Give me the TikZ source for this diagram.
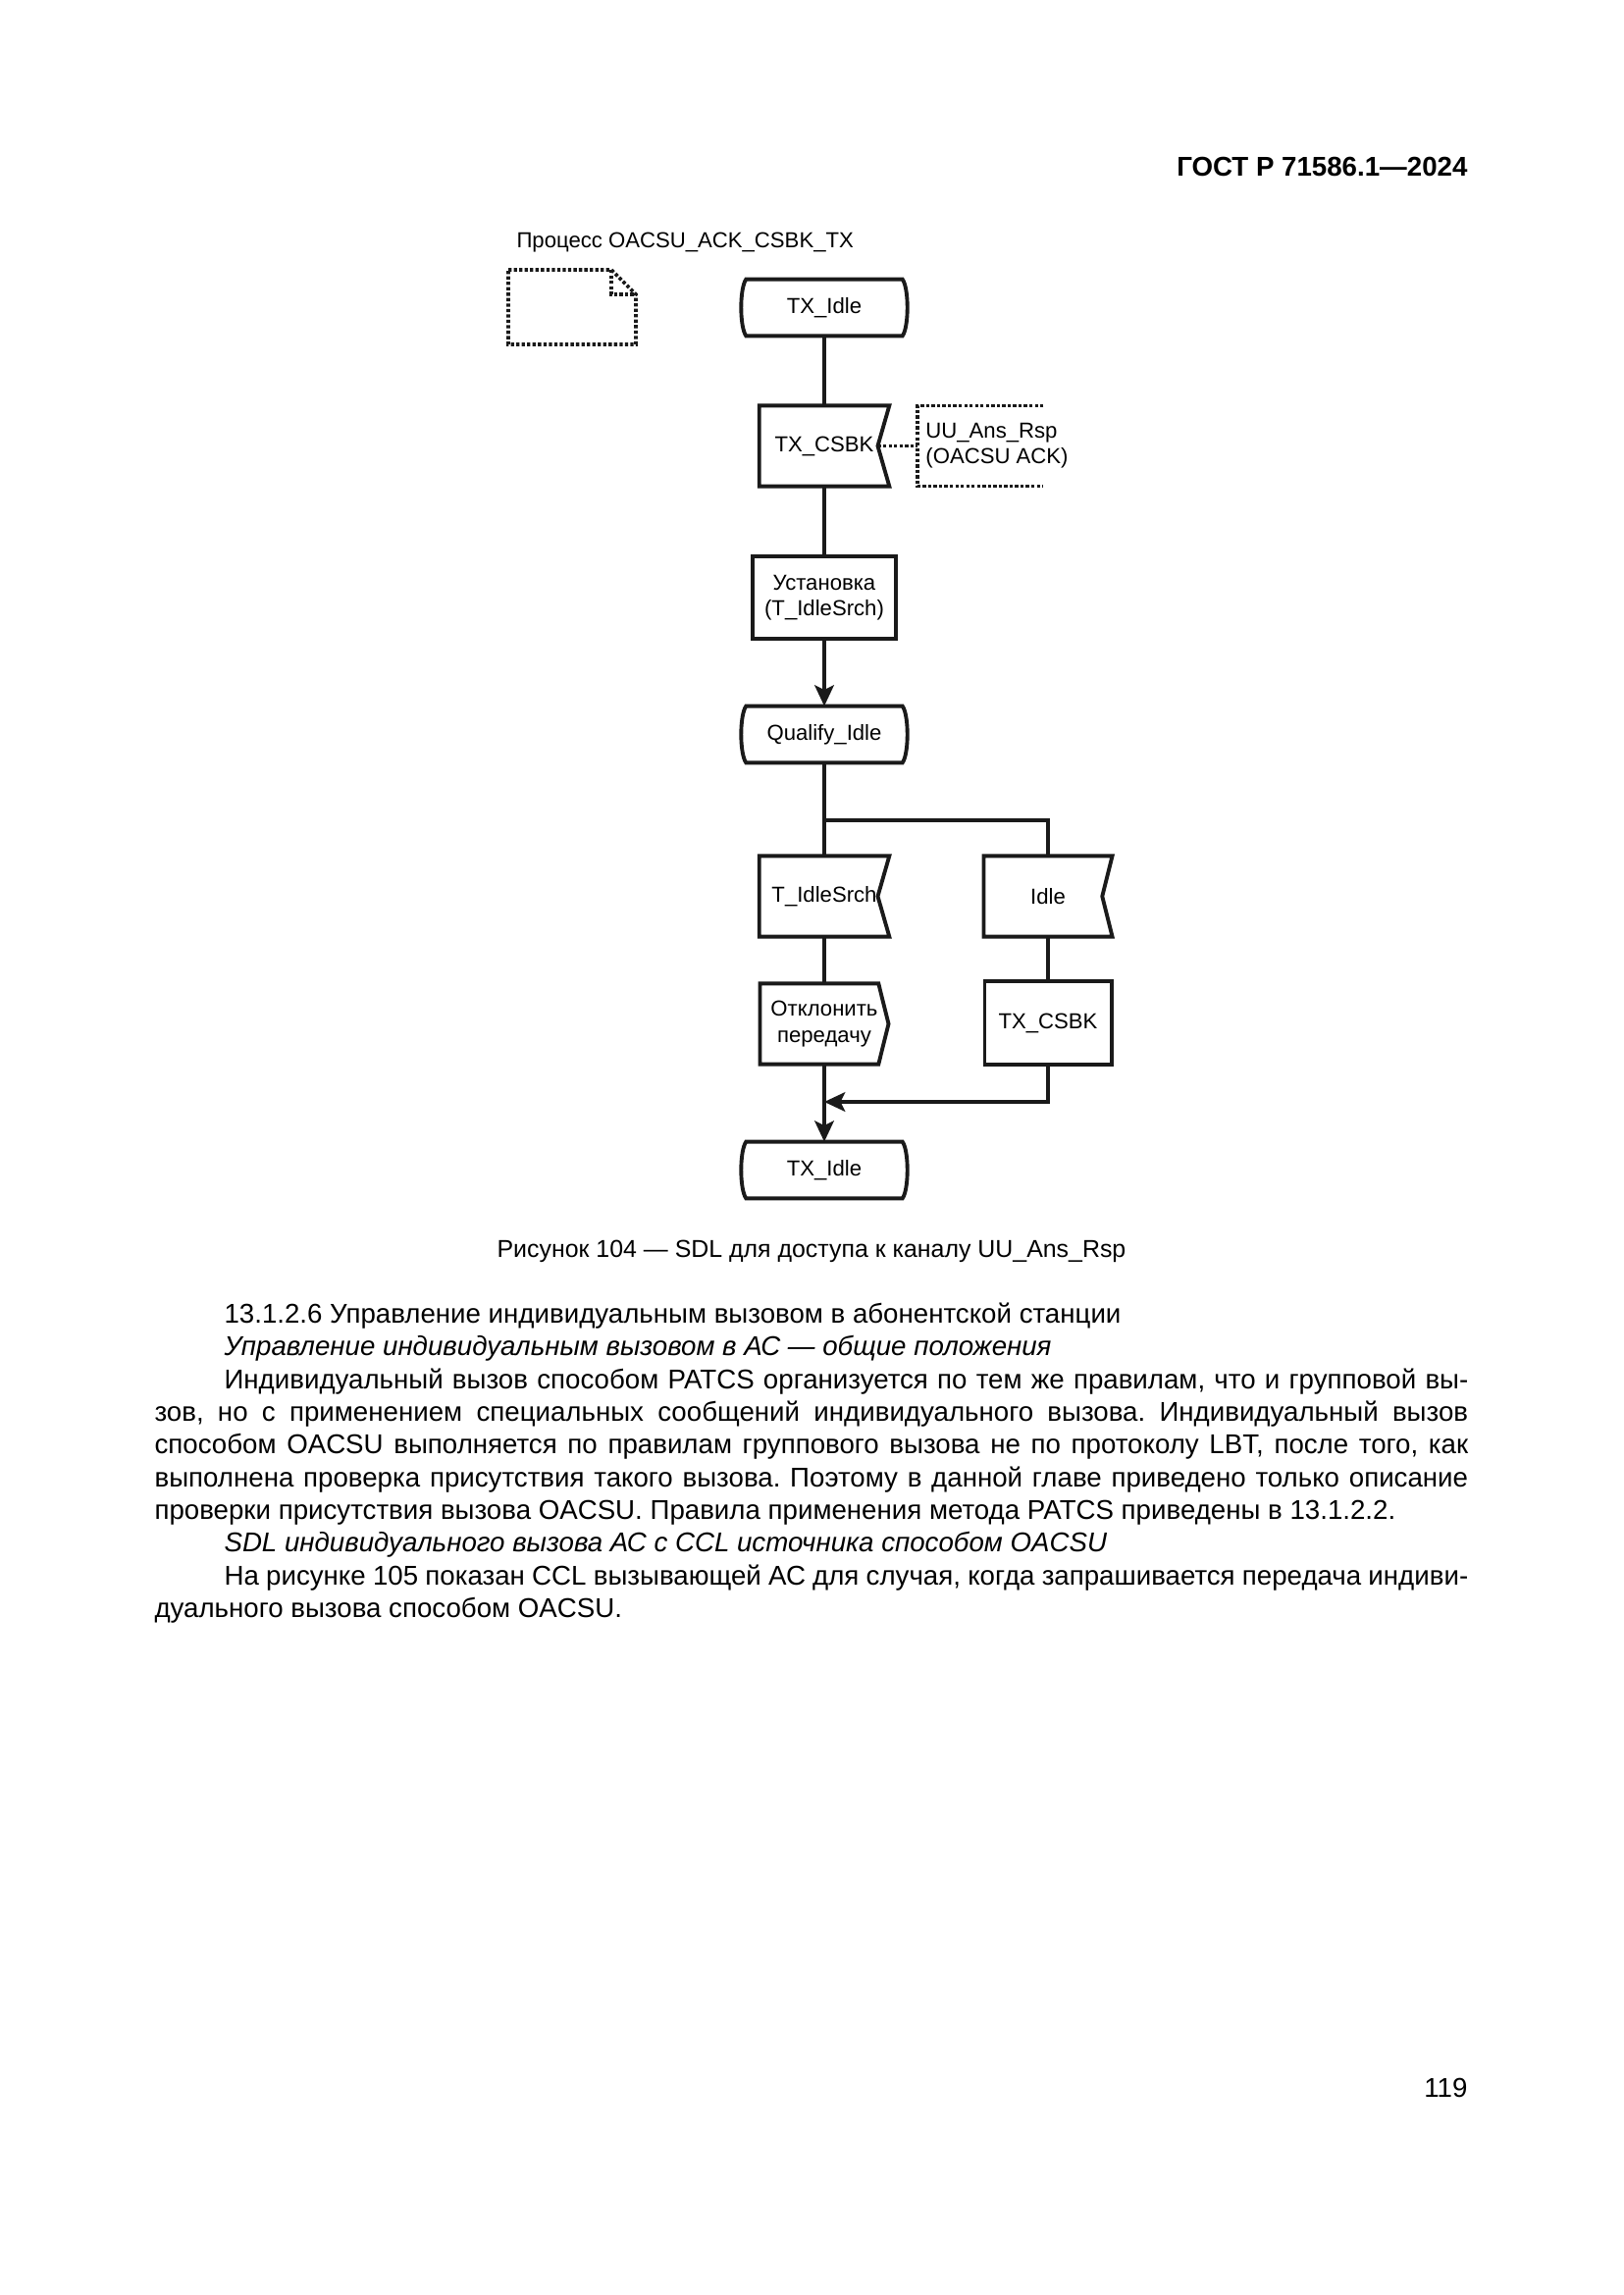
\documentclass[tikz,border=0pt]{standalone}
\usepackage{fontspec}
\setmainfont{Liberation Sans}
\usepackage{tikz}
\usetikzlibrary{arrows.meta, positioning}
\definecolor{inkline}{HTML}{1A1A1A}
\frenchspacing

\tikzset{
  sdltext/.style={font=\fontsize{8}{9.5}\selectfont, align=center, inner sep=0pt},
  symline/.style={draw=inkline, line width=1.4pt, line join=miter},
  flow/.style={draw=inkline, line width=1.2pt},
  flowarrow/.style={flow, -{Stealth[length=2.7mm, width=2.5mm, inset=0.6mm]}},
  dotline/.style={draw=inkline, line width=1.3pt, dash pattern=on 1.2pt off 0.8pt},
  statebox/.style={sdltext, minimum width=21.4mm, minimum height=7.2mm},
  inbox/.style={sdltext, minimum width=16.7mm, minimum height=10.3mm},
  outbox/.style={sdltext, minimum width=16.5mm, minimum height=10.3mm},
  taskbox/.style={sdltext, symline, rectangle},
  bodytext/.style={font=\fontsize{10}{12}\selectfont, inner sep=0pt, anchor=base west},
}

% SDL outlines, drawn round a node that has no border of its own
\newcommand{\statesym}[1]{%
  \draw[symline] ([xshift=0.65mm]#1.north west) -- ([xshift=-0.65mm]#1.north east)
    .. controls ([xshift=0.2mm,yshift=-1.2mm]#1.north east) and ([xshift=0.2mm,yshift=1.2mm]#1.south east) .. ([xshift=-0.65mm]#1.south east)
    -- ([xshift=0.65mm]#1.south west)
    .. controls ([xshift=-0.2mm,yshift=1.2mm]#1.south west) and ([xshift=-0.2mm,yshift=-1.2mm]#1.north west) .. ([xshift=0.65mm]#1.north west)
    -- cycle;}
\newcommand{\inputsym}[2][1.5mm]{%
  \draw[symline] (#2.north west) -- (#2.north east) -- ([xshift=-#1]#2.east)
    -- (#2.south east) -- (#2.south west) -- cycle;}
\newcommand{\outputsym}[1]{%
  \draw[symline] (#1.north west) -- ([xshift=-1.3mm]#1.north east) -- (#1.east)
    -- ([xshift=-1.3mm]#1.south east) -- (#1.south west) -- cycle;}

\begin{document}
\begin{tikzpicture}
\begin{scope}[x=0.127mm, y=-0.127mm]
  \useasboundingbox (0,0) rectangle (1654,2339);
  \def\fullw{170mm} % text block width
  \def\indw{161mm}  % width after paragraph indent

  % Running head
  \node[font=\bfseries\fontsize{10}{12}\selectfont, inner sep=0pt, anchor=base east] (runhead) at (1496,180) {ГОСТ Р 71586.1—2024};

  % Process name and text symbol
  \node[sdltext, anchor=base west] (procname) at (526,253) {Процесс OACSU\_ACK\_CSBK\_TX};
  \draw[dotline] (518,275) -- (623,275) -- (648,300) -- (648,351) -- (518,351) -- cycle;
  \draw[dotline] (623,275) -- (623,300) -- (648,300);

  % Main column
  \node[statebox] (idletop) at (840,313.5) {TX\_Idle};
  \node[inbox] (csbkin) at (840,454.5) {TX\_CSBK};
  \node[sdltext, anchor=west, align=left, inner xsep=1mm, minimum height=10.3mm] (csbknote) at (935,454.5) {UU\_Ans\_Rsp\\(OACSU ACK)};
  \node[taskbox, minimum width=18.5mm, minimum height=10.7mm] (settimer) at (840,609) {Установка\\(T\_IdleSrch)};
  \node[statebox] (qualify) at (840,748.5) {Qualify\_Idle};

  % Two branches
  \node[inbox] (srchin) at (840,913.5) {T\_IdleSrch};
  \node[inbox, minimum width=16.5mm] (idlein) at (1068,913.5) {Idle};
  \node[outbox] (reject) at (840,1043.5) {Отклонить\\передачу};
  \node[taskbox, minimum width=16.4mm, minimum height=10.8mm] (csbktask) at (1068,1042.5) {TX\_CSBK};
  \node[statebox] (idlebot) at (840,1192.5) {TX\_Idle};

  \statesym{idletop}
  \inputsym{csbkin}
  \statesym{qualify}
  \inputsym{srchin}
  \inputsym[1.3mm]{idlein}
  \outputsym{reject}
  \statesym{idlebot}

  % Comment bracket
  \draw[dotline] ([xshift=16.3mm]csbknote.north west) -- (csbknote.north west) -- (csbknote.south west) -- ([xshift=16.3mm]csbknote.south west);
  \draw[dotline] ([xshift=-1.5mm]csbkin.east) -- (csbknote.west);

  % Flow lines
  \coordinate (split) at (840,836);
  \coordinate (merge) at (840,1123);
  \draw[flow] (idletop) -- (csbkin);
  \draw[flow] (csbkin) -- (settimer);
  \draw[flowarrow] (settimer) -- (qualify);
  \draw[flow] (qualify) -- (srchin);
  \draw[flow] (split) -| (idlein);
  \draw[flow] (srchin) -- (reject);
  \draw[flow] (idlein) -- (csbktask);
  \draw[flowarrow] (csbktask) |- (merge);
  \draw[flowarrow] (reject) -- (idlebot);

  % Caption
  \node[font=\fontsize{9}{11}\selectfont, inner sep=0pt, anchor=base] (figcap) at (827,1281) {Рисунок 104 — SDL для доступа к каналу UU\_Ans\_Rsp};

  % Body text
  \node[bodytext] (l1) at (228,1348) {13.1.2.6 Управление индивидуальным вызовом в абонентской станции};
  \node[bodytext] (l2) at (228,1381) {\itshape Управление индивидуальным вызовом в АС — общие положения};
  \node[bodytext] (l3) at (228,1415) {\makebox[\indw][s]{Индивидуальный вызов способом PATCS организуется по тем же правилам, что и групповой вы-}};
  \node[bodytext] (l4) at (157,1448) {\makebox[\fullw][s]{зов, но с применением специальных сообщений индивидуального вызова. Индивидуальный вызов}};
  \node[bodytext] (l5) at (157,1481) {\makebox[\fullw][s]{способом OACSU выполняется по правилам группового вызова не по протоколу LBT, после того, как}};
  \node[bodytext] (l6) at (157,1515) {\makebox[\fullw][s]{выполнена проверка присутствия такого вызова. Поэтому в данной главе приведено только описание}};
  \node[bodytext] (l7) at (157,1548) {проверки присутствия вызова OACSU. Правила применения метода PATCS приведены в 13.1.2.2.};
  \node[bodytext] (l8) at (228,1581) {\itshape SDL индивидуального вызова АС с CCL источника способом OACSU};
  \node[bodytext] (l9) at (228,1615) {\makebox[\indw][s]{На рисунке 105 показан CCL вызывающей АС для случая, когда запрашивается передача индиви-}};
  \node[bodytext] (l10) at (157,1648) {дуального вызова способом OACSU.};

  % Page number
  \node[font=\fontsize{10}{12}\selectfont, inner sep=0pt, anchor=base east] (pageno) at (1496,2137) {119};
\end{scope}
\end{tikzpicture}
\end{document}
